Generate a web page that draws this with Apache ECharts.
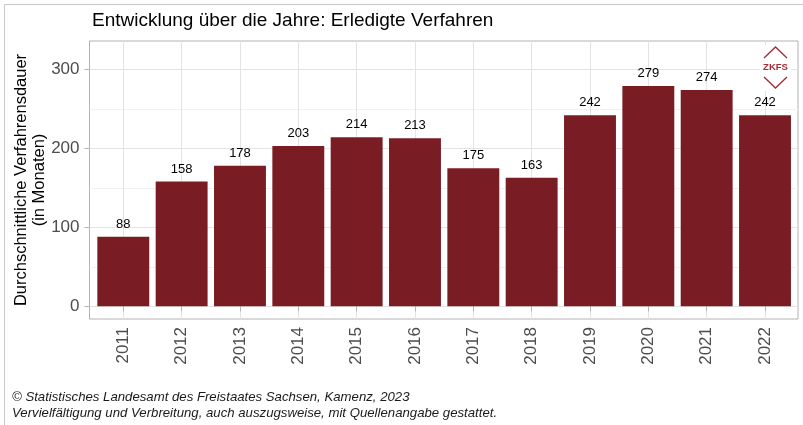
<!DOCTYPE html>
<html>
<head>
<meta charset="utf-8">
<script src="https://cdn.jsdelivr.net/npm/echarts@6/dist/echarts.min.js"></script>
<style>
  html, body { margin: 0; padding: 0; background: #fff; }
  #chart { width: 803px; height: 425px; }
</style>
</head>
<body>
<div id="chart"></div>
<script>
// Erledigte Verfahren: durchschnittliche Verfahrensdauer je Jahr
const years = ['2011', '2012', '2013', '2014', '2015', '2016', '2017', '2018', '2019', '2020', '2021', '2022'];
const dauer = [88, 158, 178, 203, 214, 213, 175, 163, 242, 279, 274, 242];
const yMajorTicks = [0, 100, 200, 300];
const yMinorTicks = [50, 150, 250];

const FONT = '"Liberation Sans", Arial, sans-serif';
const BAR = '#7a1c24';
const GRID_MAJOR = '#e3e3e3';
const GRID_MINOR = '#f1f1f1';
const FRAME = '#b3b3b3';
const LOGO = '#a52a35';
const Y_MIN = -16, Y_MAX = 336;

const chart = echarts.init(document.getElementById('chart'), null, { renderer: 'canvas' });

chart.setOption({
  animation: false,
  backgroundColor: '#fff',
  textStyle: { fontFamily: FONT },
  title: {
    text: 'Entwicklung über die Jahre: Erledigte Verfahren',
    left: 87, top: 6,
    textStyle: { fontFamily: FONT, fontSize: 19, fontWeight: 'normal', color: '#000' }
  },
  grid: [
    // panel frame with horizontal grid
    { left: 89.5, top: 41, width: 708.5, height: 278, show: true, borderColor: FRAME, borderWidth: 1, backgroundColor: 'transparent' },
    // bar area, from the first to the last category centre
    { left: 123.3, top: 41, width: 641.7, height: 278 }
  ],
  xAxis: [
    { type: 'value', gridIndex: 0, min: 0, max: 1, show: false },
    {
      type: 'category', gridIndex: 1, data: years, boundaryGap: false,
      axisLine: { show: false },
      axisTick: { show: true, length: 5, lineStyle: { color: FRAME } },
      axisLabel: { rotate: 90, margin: 8, fontSize: 17, color: '#4d4d4d', fontFamily: FONT },
      splitLine: { show: true, lineStyle: { color: GRID_MAJOR, width: 1 } }
    }
  ],
  yAxis: [
    {
      type: 'value', gridIndex: 0, min: Y_MIN, max: Y_MAX,
      name: 'Durchschnittliche Verfahrensdauer\n(in Monaten)',
      nameLocation: 'middle', nameGap: 41.5, nameMoveOverlap: false,
      nameTextStyle: { fontSize: 16.5, color: '#000', fontFamily: FONT, lineHeight: 18 },
      axisLine: { show: false },
      axisTick: { show: true, length: 5, customValues: yMajorTicks, lineStyle: { color: FRAME } },
      axisLabel: { show: true, margin: 10, customValues: yMajorTicks, fontSize: 17, color: '#4d4d4d', fontFamily: FONT },
      splitLine: { show: true, lineStyle: { color: GRID_MAJOR, width: 1 } }
    },
    {
      type: 'value', gridIndex: 0, min: Y_MIN, max: Y_MAX, position: 'left',
      axisLine: { show: false },
      axisTick: { show: false, customValues: yMinorTicks },
      axisLabel: { show: false, customValues: yMinorTicks },
      splitLine: { show: true, lineStyle: { color: GRID_MINOR, width: 1 } }
    },
    { type: 'value', gridIndex: 1, min: Y_MIN, max: Y_MAX, show: false, splitLine: { show: false } }
  ],
  series: [
    {
      type: 'bar', xAxisIndex: 1, yAxisIndex: 2, data: dauer,
      barWidth: '89%', clip: false,
      itemStyle: { color: BAR },
      label: { show: true, position: 'top', distance: 6, fontSize: 13, color: '#000', fontFamily: FONT }
    }
  ],
  graphic: [
    // outer frame
    { type: 'rect', shape: { x: 4.5, y: 4.5, width: 820, height: 440 }, style: { fill: 'none', stroke: '#c8c8c8', lineWidth: 1 }, silent: true },
    // ZKFS mark on a white backing
    { type: 'rect', shape: { x: 760, y: 45, width: 31, height: 46 }, style: { fill: '#fff' }, z: 100 },
    { type: 'polyline', shape: { points: [[764, 58], [775.5, 47], [787, 58]] }, style: { fill: 'none', stroke: LOGO, lineWidth: 1.3 }, z: 101 },
    { type: 'polyline', shape: { points: [[764, 77], [775.5, 88], [787, 77]] }, style: { fill: 'none', stroke: LOGO, lineWidth: 1.3 }, z: 101 },
    { type: 'text', x: 775.5, y: 67.5, style: { text: 'ZKFS', fill: LOGO, font: 'bold 9.5px ' + FONT, textAlign: 'center', textVerticalAlign: 'middle' }, z: 101 },
    // source note
    { type: 'text', x: 12, y: 397, style: { text: '© Statistisches Landesamt des Freistaates Sachsen, Kamenz, 2023', fill: '#1a1a1a', font: 'italic 13.2px ' + FONT, textVerticalAlign: 'middle' } },
    { type: 'text', x: 12, y: 413, style: { text: 'Vervielfältigung und Verbreitung, auch auszugsweise, mit Quellenangabe gestattet.', fill: '#1a1a1a', font: 'italic 13.2px ' + FONT, textVerticalAlign: 'middle' } }
  ]
});
</script>
</body>
</html>
